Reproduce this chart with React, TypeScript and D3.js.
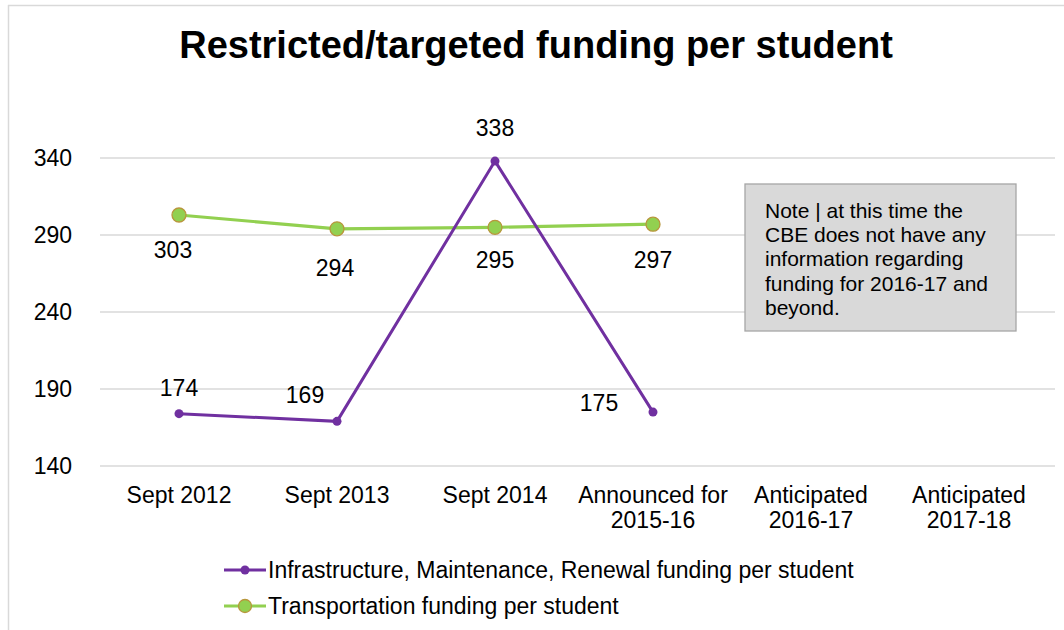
import React from "react";
import * as d3 from "d3";

const categories = [
  ["Sept 2012"],
  ["Sept 2013"],
  ["Sept 2014"],
  ["Announced for", "2015-16"],
  ["Anticipated", "2016-17"],
  ["Anticipated", "2017-18"],
];
const infrastructure = [174, 169, 338, 175];
const transportation = [303, 294, 295, 297];
const yTicks = [140, 190, 240, 290, 340];
const seriesNames = [
  "Infrastructure, Maintenance, Renewal funding per student",
  "Transportation funding per student",
];
const noteLines = [
  "Note | at this time the",
  "CBE does not have any",
  "information regarding",
  "funding for 2016-17 and",
  "beyond.",
];
const title = "Restricted/targeted funding per student";

// label offsets (style, not data)
const infraLabelOffsets = [
  [0, -26],
  [-32, -26],
  [0, -33],
  [-54, -9],
];
const transLabelOffsets = [
  [-6, 35],
  [-2, 39],
  [0, 33],
  [0, 36],
];

const PURPLE = "#7030a0";
const GREEN = "#92d050";
const FONT = "'Liberation Sans', Arial, sans-serif";
const FS = 23;

export default function App() {
  const W = 1064;
  const H = 630;
  const x = d3
    .scaleBand<number>()
    .domain(d3.range(categories.length))
    .range([100, 1048]);
  const y = d3.scaleLinear().domain([140, 340]).range([466, 158]);
  const cx = (i: number) => (x(i) as number) + x.bandwidth() / 2;

  const line = d3
    .line<number>()
    .x((_, i) => cx(i))
    .y((d) => y(d));

  return (
    <svg
      width={W}
      height={H}
      style={{ position: "absolute", left: 0, top: 0, background: "#fff" }}
      fontFamily={FONT}
    >
      {/* outer border */}
      <line x1={8.5} y1={5} x2={8.5} y2={H} stroke="#d9d9d9" strokeWidth={1.5} />
      <line x1={8} y1={5.5} x2={W} y2={5.5} stroke="#d9d9d9" strokeWidth={1.5} />

      <text
        x={536}
        y={58}
        textAnchor="middle"
        fontSize={38}
        fontWeight="bold"
        fill="#000"
      >
        {title}
      </text>

      {/* gridlines */}
      {yTicks.map((t) => (
        <line
          key={t}
          x1={100}
          x2={1055}
          y1={y(t)}
          y2={y(t)}
          stroke="#d9d9d9"
          strokeWidth={1.3}
        />
      ))}
      {yTicks.map((t) => (
        <text
          key={"l" + t}
          x={72}
          y={y(t)}
          dy="0.35em"
          textAnchor="end"
          fontSize={FS}
          fill="#000"
        >
          {t}
        </text>
      ))}

      {/* x labels */}
      {categories.map((c, i) => (
        <text key={i} x={cx(i)} textAnchor="middle" fontSize={FS} fill="#000">
          {c.map((ln, j) => (
            <tspan key={j} x={cx(i)} y={503 + j * 25}>
              {ln}
            </tspan>
          ))}
        </text>
      ))}

      {/* note box */}
      <rect
        x={745}
        y={184}
        width={271}
        height={147}
        fill="#d9d9d9"
        stroke="#a6a6a6"
        strokeWidth={1.3}
      />
      {noteLines.map((ln, i) => (
        <text key={i} x={765} y={218 + i * 24.2} fontSize={21} fill="#000">
          {ln}
        </text>
      ))}

      {/* transportation */}
      <path d={line(transportation) || ""} fill="none" stroke={GREEN} strokeWidth={3.2} />
      {transportation.map((v, i) => (
        <circle key={i} cx={cx(i)} cy={y(v)} r={7} fill={GREEN} stroke="#b8963c" strokeWidth={1.3} />
      ))}

      {/* infrastructure */}
      <path d={line(infrastructure) || ""} fill="none" stroke={PURPLE} strokeWidth={3} />
      {infrastructure.map((v, i) => (
        <circle key={i} cx={cx(i)} cy={y(v)} r={4.5} fill={PURPLE} />
      ))}

      {/* data labels */}
      {infrastructure.map((v, i) => (
        <text
          key={"il" + i}
          x={cx(i) + infraLabelOffsets[i][0]}
          y={y(v) + infraLabelOffsets[i][1]}
          dy="0.35em"
          textAnchor="middle"
          fontSize={FS}
          fill="#000"
        >
          {v}
        </text>
      ))}
      {transportation.map((v, i) => (
        <text
          key={"tl" + i}
          x={cx(i) + transLabelOffsets[i][0]}
          y={y(v) + transLabelOffsets[i][1]}
          dy="0.35em"
          textAnchor="middle"
          fontSize={FS}
          fill="#000"
        >
          {v}
        </text>
      ))}

      {/* legend */}
      {seriesNames.map((name, i) => {
        const ly = 570 + i * 36;
        const col = i === 0 ? PURPLE : GREEN;
        return (
          <g key={name}>
            <line x1={224} x2={266} y1={ly} y2={ly} stroke={col} strokeWidth={3} />
            {i === 0 ? (
              <circle cx={245} cy={ly} r={4.5} fill={PURPLE} />
            ) : (
              <circle cx={245} cy={ly} r={6.5} fill={GREEN} stroke="#b8963c" strokeWidth={1.3} />
            )}
            <text x={268} y={ly} dy="0.35em" fontSize={FS} fill="#000">
              {name}
            </text>
          </g>
        );
      })}
    </svg>
  );
}
